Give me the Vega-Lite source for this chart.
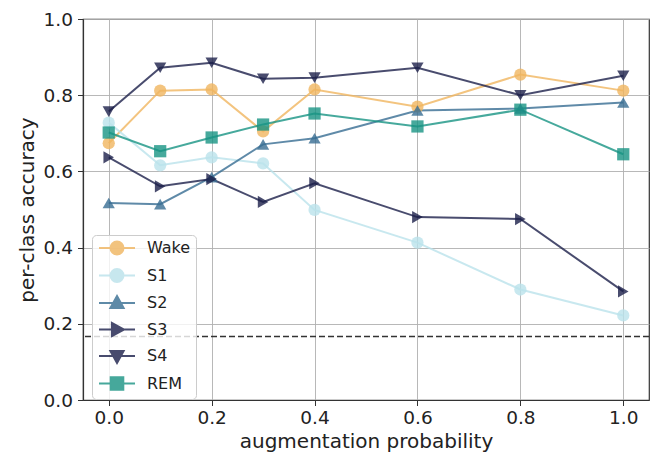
{
  "$schema": "https://vega.github.io/schema/vega-lite/v6.json",
  "width": 566,
  "height": 381,
  "autosize": {"type": "none"},
  "padding": {"left": 83, "top": 19, "right": 12, "bottom": 57},
  "background": "white",
  "config": {
    "font": "DejaVu Sans",
    "view": {"stroke": "#333333", "strokeWidth": 1.2},
    "axis": {
      "labelFont": "DejaVu Sans", "titleFont": "DejaVu Sans",
      "labelFontSize": 18.5, "titleFontSize": 20, "titleFontWeight": "normal",
      "labelColor": "#222", "titleColor": "#222",
      "gridColor": "#b0b0b0", "gridWidth": 0.9, "gridOpacity": 1,
      "domainColor": "#333333", "domainWidth": 1.2,
      "tickColor": "#333333", "tickSize": 5.5, "tickWidth": 1
    },
    "point": {"filled": true, "opacity": 0.8, "size": 150, "strokeWidth": 1}
  },
  "datasets": {
    "acc": [
      {"p": 0.0, "cls": "Wake", "acc": 0.674}, {"p": 0.1, "cls": "Wake", "acc": 0.812}, {"p": 0.2, "cls": "Wake", "acc": 0.815}, {"p": 0.3, "cls": "Wake", "acc": 0.705}, {"p": 0.4, "cls": "Wake", "acc": 0.815}, {"p": 0.6, "cls": "Wake", "acc": 0.770}, {"p": 0.8, "cls": "Wake", "acc": 0.854}, {"p": 1.0, "cls": "Wake", "acc": 0.812},
      {"p": 0.0, "cls": "S1", "acc": 0.728}, {"p": 0.1, "cls": "S1", "acc": 0.616}, {"p": 0.2, "cls": "S1", "acc": 0.637}, {"p": 0.3, "cls": "S1", "acc": 0.621}, {"p": 0.4, "cls": "S1", "acc": 0.499}, {"p": 0.6, "cls": "S1", "acc": 0.413}, {"p": 0.8, "cls": "S1", "acc": 0.290}, {"p": 1.0, "cls": "S1", "acc": 0.222},
      {"p": 0.0, "cls": "S2", "acc": 0.517}, {"p": 0.1, "cls": "S2", "acc": 0.514}, {"p": 0.2, "cls": "S2", "acc": 0.585}, {"p": 0.3, "cls": "S2", "acc": 0.671}, {"p": 0.4, "cls": "S2", "acc": 0.687}, {"p": 0.6, "cls": "S2", "acc": 0.760}, {"p": 0.8, "cls": "S2", "acc": 0.765}, {"p": 1.0, "cls": "S2", "acc": 0.781},
      {"p": 0.0, "cls": "S3", "acc": 0.637}, {"p": 0.1, "cls": "S3", "acc": 0.561}, {"p": 0.2, "cls": "S3", "acc": 0.580}, {"p": 0.3, "cls": "S3", "acc": 0.520}, {"p": 0.4, "cls": "S3", "acc": 0.569}, {"p": 0.6, "cls": "S3", "acc": 0.480}, {"p": 0.8, "cls": "S3", "acc": 0.475}, {"p": 1.0, "cls": "S3", "acc": 0.285},
      {"p": 0.0, "cls": "S4", "acc": 0.757}, {"p": 0.1, "cls": "S4", "acc": 0.872}, {"p": 0.2, "cls": "S4", "acc": 0.885}, {"p": 0.3, "cls": "S4", "acc": 0.843}, {"p": 0.4, "cls": "S4", "acc": 0.846}, {"p": 0.6, "cls": "S4", "acc": 0.872}, {"p": 0.8, "cls": "S4", "acc": 0.800}, {"p": 1.0, "cls": "S4", "acc": 0.851},
      {"p": 0.0, "cls": "REM", "acc": 0.702}, {"p": 0.1, "cls": "REM", "acc": 0.653}, {"p": 0.2, "cls": "REM", "acc": 0.689}, {"p": 0.3, "cls": "REM", "acc": 0.723}, {"p": 0.4, "cls": "REM", "acc": 0.752}, {"p": 0.6, "cls": "REM", "acc": 0.718}, {"p": 0.8, "cls": "REM", "acc": 0.762}, {"p": 1.0, "cls": "REM", "acc": 0.645}
    ],
    "chance": [{"level": 0.1667}]
  },
  "resolve": {"legend": {"color": "independent"}},
  "layer": [
    {
      "data": {"name": "chance"},
      "mark": {"type": "rule", "color": "#333333", "strokeWidth": 1.6, "strokeDash": [6, 3]},
      "encoding": {"y": {"field": "level", "type": "quantitative", "scale": {"domain": [0, 1], "nice": false}}}
    },
    {
      "data": {"name": "acc"},
      "mark": {"type": "line", "strokeWidth": 2, "opacity": 0.8},
      "encoding": {
        "x": {"field": "p", "type": "quantitative", "scale": {"domain": [-0.05, 1.05], "nice": false, "zero": false},
              "axis": {"values": [0, 0.2, 0.4, 0.6, 0.8, 1.0], "format": ".1f", "title": "augmentation probability", "labelPadding": 3, "titlePadding": 4}},
        "y": {"field": "acc", "type": "quantitative", "scale": {"domain": [0, 1], "nice": false},
              "axis": {"values": [0, 0.2, 0.4, 0.6, 0.8, 1.0], "format": ".1f", "title": "per-class accuracy", "labelPadding": 5, "titlePadding": 6}},
        "color": {"field": "cls", "type": "nominal",
                  "scale": {"domain": ["Wake", "S1", "S2", "S3", "S4", "REM"], "range": ["#f0b55f", "#bae2eb", "#376d92", "#1b1f4a", "#1b1f4a", "#189383"]},
                  "legend": {
                    "title": null, "orient": "none", "legendX": 9, "legendY": 216,
                    "labelFontSize": 16, "labelFont": "DejaVu Sans", "labelColor": "#222",
                    "symbolSize": 144, "symbolOpacity": 0.8, "symbolStrokeWidth": 2,
                    "rowPadding": 5.5, "labelOffset": 22, "symbolOffset": 12, "padding": 5,
                    "fillColor": "rgba(255,255,255,0.8)", "strokeColor": "#cccccc", "cornerRadius": 4,
                    "encode": {
                      "symbols": {"update": {
                        "shape": {"signal": "datum.value === 'S2' ? 'M-3,0H3M0,-1.15L1.1,0.85L-1.1,0.85Z' : datum.value === 'S3' ? 'M-3,0H3M1.15,0L-0.85,1.1L-0.85,-1.1Z' : datum.value === 'S4' ? 'M-3,0H3M0,1.15L1.1,-0.85L-1.1,-0.85Z' : datum.value === 'REM' ? 'M-3,0H3M-1.05,-1.05H1.05V1.05H-1.05Z' : 'M-3,0H3M-1.08,0A1.08,1.08,0,1,0,1.08,0A1.08,1.08,0,1,0,-1.08,0Z'"},
                        "stroke": {"signal": "scale('color', datum.value)"},
                        "fill": {"signal": "scale('color', datum.value)"},
                        "strokeWidth": {"value": 2},
                        "opacity": {"value": 0.8}
                      }}
                    }
                  }},
        "detail": {"field": "cls"}
      }
    },
    {
      "data": {"name": "acc"},
      "transform": [{"filter": "datum.cls === 'Wake' || datum.cls === 'S1'"}],
      "mark": {"type": "point", "shape": "circle"},
      "encoding": {
        "x": {"field": "p", "type": "quantitative"},
        "y": {"field": "acc", "type": "quantitative"},
        "color": {"field": "cls", "type": "nominal", "legend": null}
      }
    },
    {
      "data": {"name": "acc"},
      "transform": [{"filter": "datum.cls === 'S2'"}],
      "mark": {"type": "point", "shape": "triangle-up"},
      "encoding": {
        "x": {"field": "p", "type": "quantitative"},
        "y": {"field": "acc", "type": "quantitative"},
        "color": {"field": "cls", "type": "nominal", "legend": null}
      }
    },
    {
      "data": {"name": "acc"},
      "transform": [{"filter": "datum.cls === 'S3'"}],
      "mark": {"type": "point", "shape": "triangle-right"},
      "encoding": {
        "x": {"field": "p", "type": "quantitative"},
        "y": {"field": "acc", "type": "quantitative"},
        "color": {"field": "cls", "type": "nominal", "legend": null}
      }
    },
    {
      "data": {"name": "acc"},
      "transform": [{"filter": "datum.cls === 'S4'"}],
      "mark": {"type": "point", "shape": "triangle-down"},
      "encoding": {
        "x": {"field": "p", "type": "quantitative"},
        "y": {"field": "acc", "type": "quantitative"},
        "color": {"field": "cls", "type": "nominal", "legend": null}
      }
    },
    {
      "data": {"name": "acc"},
      "transform": [{"filter": "datum.cls === 'REM'"}],
      "mark": {"type": "point", "shape": "square"},
      "encoding": {
        "x": {"field": "p", "type": "quantitative"},
        "y": {"field": "acc", "type": "quantitative"},
        "color": {"field": "cls", "type": "nominal", "legend": null}
      }
    }
  ]
}
